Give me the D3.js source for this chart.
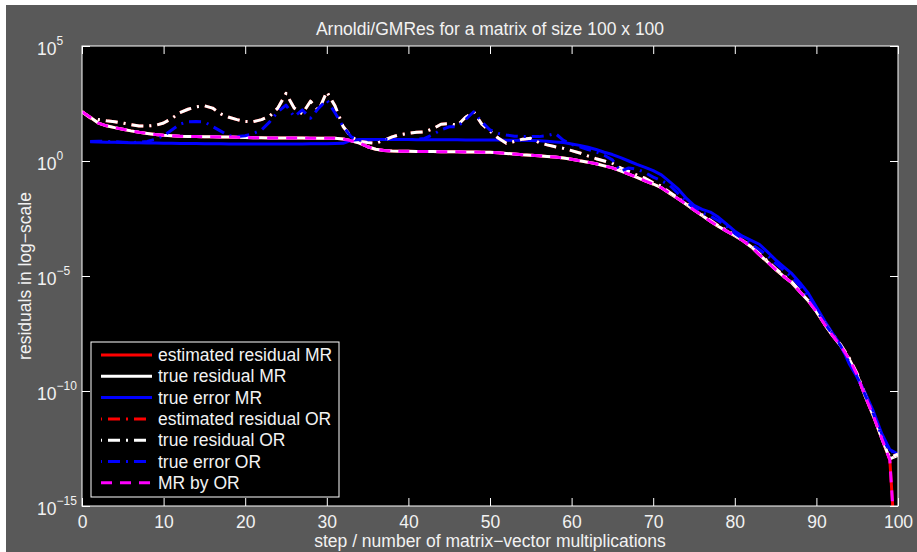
<!DOCTYPE html>
<html><head><meta charset="utf-8">
<script src="https://cdn.jsdelivr.net/npm/d3@7"></script>
<style>body{margin:0;background:#fff;}svg{display:block;} text{font-family:"Liberation Sans",Arial,sans-serif;}</style>
</head><body>
<svg id="chart" width="917" height="552"></svg>
<script>
const title = "Arnoldi/GMRes for a matrix of size 100 x 100";
const xLabel = "step / number of matrix\u2212vector multiplications";
const yLabel = "residuals in log\u2212scale";
const xTicks = [0,10,20,30,40,50,60,70,80,90,100];
const yTickExps = [5,0,-5,-10,-15];
const steps = d3.range(0,101);
// series values given as log10 of the residual / error, per step 0..100
const estResMR = [2.14,1.90,1.65,1.53,1.45,1.38,1.31,1.25,1.20,1.15,
 1.12,1.10,1.08,1.07,1.06,1.05,1.05,1.04,1.04,1.03,
 1.02,1.01,1.01,1.00,1.00,1.00,1.00,1.00,0.99,0.99,
 0.99,0.99,0.96,0.88,0.78,0.62,0.51,0.46,0.43,0.42,
 0.42,0.41,0.41,0.41,0.40,0.40,0.40,0.39,0.39,0.38,
 0.38,0.36,0.33,0.30,0.27,0.25,0.23,0.20,0.17,0.13,
 0.08,0.01,-0.05,-0.12,-0.21,-0.30,-0.43,-0.57,-0.71,-0.86,
 -1.00,-1.16,-1.40,-1.63,-1.87,-2.13,-2.37,-2.62,-2.85,-3.05,
 -3.25,-3.47,-3.73,-4.07,-4.39,-4.72,-5.02,-5.30,-5.70,-6.08,
 -6.55,-7.10,-7.60,-8.05,-8.60,-9.30,-10.25,-11.10,-12.05,-13.00,
 -18.70];
const trueResMR = [2.14,1.90,1.65,1.53,1.45,1.38,1.31,1.25,1.20,1.15,
 1.12,1.10,1.08,1.07,1.06,1.05,1.05,1.04,1.04,1.03,
 1.02,1.01,1.01,1.00,1.00,1.00,1.00,1.00,0.99,0.99,
 0.99,0.99,0.96,0.88,0.78,0.62,0.51,0.46,0.43,0.42,
 0.42,0.41,0.41,0.41,0.40,0.40,0.40,0.39,0.39,0.38,
 0.38,0.36,0.33,0.30,0.27,0.25,0.23,0.20,0.17,0.13,
 0.08,0.01,-0.05,-0.12,-0.21,-0.30,-0.43,-0.57,-0.71,-0.86,
 -1.00,-1.16,-1.40,-1.63,-1.87,-2.13,-2.37,-2.62,-2.85,-3.05,
 -3.25,-3.47,-3.73,-4.07,-4.39,-4.72,-5.02,-5.30,-5.70,-6.08,
 -6.55,-7.10,-7.60,-8.05,-8.60,-9.30,-10.25,-11.10,-12.05,-12.95,
 -12.80];
const trueErrMR = [null,0.84,0.83,0.82,0.81,0.80,0.79,0.79,0.78,0.78,
 0.77,0.77,0.76,0.76,0.76,0.75,0.75,0.75,0.74,0.74,
 0.74,0.74,0.74,0.74,0.74,0.74,0.74,0.74,0.75,0.75,
 0.75,0.76,0.77,0.90,0.93,0.94,0.94,0.94,0.93,0.93,
 0.93,0.92,0.92,0.92,0.92,0.92,0.92,0.91,0.91,0.91,
 0.91,0.91,0.90,0.90,0.90,0.89,0.88,0.86,0.83,0.80,
 0.74,0.68,0.60,0.50,0.38,0.28,0.15,0.00,-0.15,-0.28,
 -0.42,-0.60,-0.90,-1.20,-1.60,-1.93,-2.10,-2.22,-2.45,-2.75,
 -3.05,-3.28,-3.45,-3.62,-3.95,-4.30,-4.60,-4.90,-5.30,-5.75,
 -6.35,-6.95,-7.50,-8.00,-8.80,-9.40,-10.10,-10.90,-11.85,-12.55,
 -12.75];
const estResOR = [2.14,1.88,1.80,1.75,1.71,1.65,1.58,1.52,1.52,1.55,
 1.65,1.85,2.10,2.25,2.35,2.40,2.30,2.05,1.90,1.80,
 1.72,1.71,1.80,1.95,2.30,2.94,2.30,2.05,2.60,2.20,
 3.01,2.40,1.50,1.05,0.85,0.80,0.77,0.90,1.05,1.15,
 1.20,1.25,1.27,1.40,1.60,1.62,1.55,1.90,2.14,1.60,
 1.30,1.00,0.77,0.85,0.95,0.99,0.80,0.70,0.62,0.55,
 0.45,0.35,0.22,0.10,0.00,-0.10,-0.30,-0.45,-0.61,-0.75,
 -0.95,-1.10,-1.36,-1.60,-1.84,-2.10,-2.34,-2.58,-2.82,-3.02,
 -3.22,-3.44,-3.70,-4.03,-4.35,-4.68,-4.98,-5.26,-5.66,-6.04,
 -6.50,-7.05,-7.55,-8.00,-8.55,-9.25,-10.20,-11.05,-12.00,-12.90,
 -12.75];
const trueResOR = [2.14,1.88,1.80,1.75,1.71,1.65,1.58,1.52,1.52,1.55,
 1.65,1.85,2.10,2.25,2.35,2.40,2.30,2.05,1.90,1.80,
 1.72,1.71,1.80,1.95,2.30,2.94,2.30,2.05,2.60,2.20,
 3.01,2.40,1.50,1.05,0.85,0.80,0.77,0.90,1.05,1.15,
 1.20,1.25,1.27,1.40,1.60,1.62,1.55,1.90,2.14,1.60,
 1.30,1.00,0.77,0.85,0.95,0.99,0.80,0.70,0.62,0.55,
 0.45,0.35,0.22,0.10,0.00,-0.10,-0.30,-0.45,-0.61,-0.75,
 -0.95,-1.10,-1.36,-1.60,-1.84,-2.10,-2.34,-2.58,-2.82,-3.02,
 -3.22,-3.44,-3.70,-4.03,-4.35,-4.68,-4.98,-5.26,-5.66,-6.04,
 -6.50,-7.05,-7.55,-8.00,-8.55,-9.25,-10.20,-11.05,-12.00,-12.90,
 -12.75];
const trueErrOR = [null,0.85,0.86,0.85,0.84,0.82,0.80,0.82,0.85,0.95,
 1.10,1.35,1.60,1.71,1.72,1.70,1.50,1.30,1.10,1.06,
 1.10,1.20,1.35,1.70,2.14,2.43,1.93,2.22,1.86,2.30,
 2.65,2.10,1.50,1.05,0.91,0.92,0.93,0.93,0.93,0.93,
 0.93,0.94,0.98,1.15,1.35,1.49,1.49,1.80,2.14,1.70,
 1.35,1.20,1.13,1.08,1.06,1.06,1.06,1.10,1.20,0.90,
 0.72,0.62,0.50,0.40,0.25,0.05,-0.45,-0.30,-0.35,-0.50,
 -0.70,-0.85,-1.05,-1.40,-1.75,-2.05,-2.25,-2.40,-2.60,-2.85,
 -3.15,-3.40,-3.60,-3.85,-4.10,-4.45,-4.75,-5.05,-5.45,-5.90,
 -6.45,-7.05,-7.55,-8.05,-8.75,-9.35,-10.20,-11.00,-11.95,-12.65,
 -12.60];
const mrByOR = [2.14,1.90,1.65,1.53,1.45,1.38,1.31,1.25,1.20,1.15,
 1.12,1.10,1.08,1.07,1.06,1.05,1.05,1.04,1.04,1.03,
 1.02,1.01,1.01,1.00,1.00,1.00,1.00,1.00,0.99,0.99,
 0.99,0.99,0.96,0.88,0.78,0.62,0.51,0.46,0.43,0.42,
 0.42,0.41,0.41,0.41,0.40,0.40,0.40,0.39,0.39,0.38,
 0.38,0.36,0.33,0.30,0.27,0.25,0.23,0.20,0.17,0.13,
 0.08,0.01,-0.05,-0.12,-0.21,-0.30,-0.43,-0.57,-0.71,-0.86,
 -1.00,-1.16,-1.40,-1.63,-1.87,-2.13,-2.37,-2.62,-2.85,-3.05,
 -3.25,-3.47,-3.73,-4.07,-4.39,-4.72,-5.02,-5.30,-5.70,-6.08,
 -6.55,-7.10,-7.60,-8.05,-8.60,-9.30,-10.25,-11.10,-12.05,-13.00,
 -18.70];
const seriesNames = ["estimated residual MR","true residual MR","true error MR",
  "estimated residual OR","true residual OR","true error OR","MR by OR"];
const seriesData = [estResMR,trueResMR,trueErrMR,estResOR,trueResOR,trueErrOR,mrByOR];
const seriesColors = ["#ff0000","#ffffff","#0000ff","#ff0000","#ffffff","#0000ff","#ff00ff"];
const seriesDash = [null,null,null,"12,6,2,6","12,6,2,6","12,6,2,6","11,8"];

const svg = d3.select("#chart");
const W = 917, H = 552;
const M = {left:82, right:898, top:46, bottom:506};
const fg = "#f2f2f2";
const fs = "17.5px";

svg.append("rect").attr("x",6).attr("y",5).attr("width",W-6).attr("height",H-5).attr("fill","#595959");

const x = d3.scaleLinear().domain([0,100]).range([M.left,M.right]);
const y = d3.scaleLog().domain([1e-15,1e5]).range([M.bottom,M.top]);

svg.append("rect").attr("x",M.left).attr("y",M.top).attr("width",M.right-M.left).attr("height",M.bottom-M.top).attr("fill","#000");

svg.append("clipPath").attr("id","clip").append("rect")
  .attr("x",M.left).attr("y",M.top).attr("width",M.right-M.left).attr("height",M.bottom-M.top);

const line = d3.line()
  .defined(d => d[1] !== null)
  .x(d => x(d[0]))
  .y(d => y(Math.pow(10, d[1])));

const gLines = svg.append("g").attr("clip-path","url(#clip)");
seriesData.forEach((arr,i) => {
  gLines.append("path")
    .datum(steps.map((s,j) => [s, arr[j]]))
    .attr("d", line)
    .attr("fill","none")
    .attr("stroke", seriesColors[i])
    .attr("stroke-width", 3)
    .attr("stroke-linejoin","round")
    .attr("stroke-dasharray", seriesDash[i]);
});

// axes
function styleAxis(g){
  g.select(".domain").remove();
  g.selectAll(".tick line").attr("stroke","#fff").attr("stroke-width",1);
  g.selectAll(".tick text").attr("fill",fg).style("font-size",fs).style("font-family","'Liberation Sans',Arial,sans-serif");
}
svg.append("g").attr("transform",`translate(0,${M.bottom})`)
  .call(d3.axisBottom(x).tickValues(xTicks).tickSize(-8).tickPadding(10).tickFormat(d3.format("d")))
  .call(styleAxis);
svg.append("g").attr("transform",`translate(0,${M.top})`)
  .call(d3.axisTop(x).tickValues(xTicks).tickSize(-8).tickFormat(""))
  .call(styleAxis);
const yTickVals = yTickExps.map(e => Math.pow(10,e));
svg.append("g").attr("transform",`translate(${M.left},0)`)
  .call(d3.axisLeft(y).tickValues(yTickVals).tickSize(-8).tickFormat(""))
  .call(styleAxis);
svg.append("g").attr("transform",`translate(${M.right},0)`)
  .call(d3.axisRight(y).tickValues(yTickVals).tickSize(-8).tickFormat(""))
  .call(styleAxis);

// y tick labels with superscripts
yTickExps.forEach(e => {
  const t = svg.append("text").attr("x",37).attr("y", y(Math.pow(10,e)) + 9)
    .attr("fill",fg).style("font-size",fs);
  t.append("tspan").text("10");
  t.append("tspan").attr("dy",-10).style("font-size","12px").text(String(e).replace("-","\u2212"));
});

// frame
svg.append("rect").attr("x",M.left).attr("y",M.top).attr("width",M.right-M.left).attr("height",M.bottom-M.top)
  .attr("fill","none").attr("stroke","#fff").attr("stroke-width",1);

// title & labels
svg.append("text").attr("x",490).attr("y",35).attr("text-anchor","middle").attr("fill",fg).style("font-size",fs).text(title);
svg.append("text").attr("x",490).attr("y",547).attr("text-anchor","middle").attr("fill",fg).style("font-size",fs).text(xLabel);
svg.append("text").attr("transform","translate(31,276) rotate(-90)").attr("text-anchor","middle").attr("fill",fg).style("font-size",fs).text(yLabel);

// legend
const lg = svg.append("g");
lg.append("rect").attr("x",91).attr("y",342).attr("width",248).attr("height",155).attr("fill","#000").attr("stroke","#fff").attr("stroke-width",1);
seriesNames.forEach((n,i) => {
  const ry = 355 + i*21.3;
  lg.append("line").attr("x1",101).attr("x2",152).attr("y1",ry).attr("y2",ry)
    .attr("stroke",seriesColors[i]).attr("stroke-width",3)
    .attr("stroke-dasharray",seriesDash[i]).attr("stroke-dashoffset", seriesDash[i] && seriesDash[i].startsWith("12") ? 19 : 0);
  lg.append("text").attr("x",158).attr("y",ry+6).attr("fill",fg).style("font-size",fs).text(n);
});
</script>
</body></html>
